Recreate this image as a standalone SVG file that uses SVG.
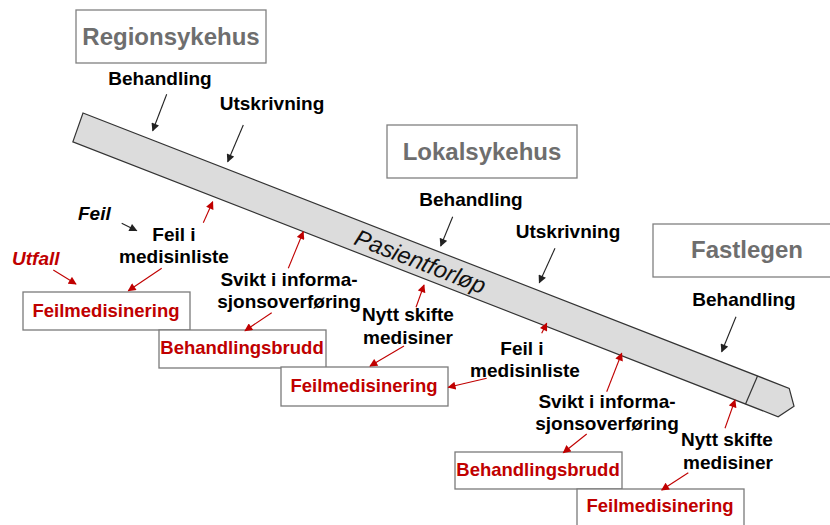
<svg xmlns="http://www.w3.org/2000/svg" width="830" height="525" viewBox="0 0 830 525">
<style>
.hbox{fill:#fff;stroke:#808080;stroke-width:1.3}
.htxt{font-family:"Liberation Sans",Arial,sans-serif;font-weight:bold;font-size:24px;fill:#6e6e6e;text-anchor:middle}
.rbox{fill:#fff;stroke:#7a7a7a;stroke-width:1.3}
.rtxt{font-family:"Liberation Sans",Arial,sans-serif;font-weight:bold;font-size:18.5px;fill:#c00000;text-anchor:middle}
.lbl{font-family:"Liberation Sans",Arial,sans-serif;font-weight:bold;font-size:19px;fill:#000;text-anchor:middle}
.ita{font-family:"Liberation Sans",Arial,sans-serif;font-weight:bold;font-style:italic;font-size:19px}
.ba{stroke:#222;stroke-width:1.1;fill:none;marker-end:url(#ah-b)}
.ra{stroke:#c00000;stroke-width:1.1;fill:none;marker-end:url(#ah-r)}
</style>
<defs>
<marker id="ah-b" viewBox="0 0 10 10" refX="9" refY="5" markerWidth="9" markerHeight="8" markerUnits="userSpaceOnUse" orient="auto"><path d="M0,0 L10,5 L0,10 z" fill="#222"/></marker>
<marker id="ah-r" viewBox="0 0 10 10" refX="9" refY="5" markerWidth="9" markerHeight="8" markerUnits="userSpaceOnUse" orient="auto"><path d="M0,0 L10,5 L0,10 z" fill="#c00000"/></marker>
</defs>
<rect width="830" height="525" fill="#fff"/>

<g id="pasientforlop" transform="translate(83,113) rotate(21.3)">
<path d="M0,0 L758,0 L769,15 L758,30.5 L1,30.5 Z" fill="#dcdcdc" stroke="#333" stroke-width="1.2"/>
<line x1="724" y1="0" x2="723" y2="30.5" stroke="#333" stroke-width="1.2"/>
<text x="299" y="24" font-family="'Liberation Sans',Arial,sans-serif" font-style="italic" font-size="23.5" fill="#111">Pasientforløp</text>
</g>

<g id="regionsykehus"><rect class="hbox" x="76" y="10" width="190" height="53"/><text class="htxt" x="171" y="45">Regionsykehus</text></g>
<g id="lokalsykehus"><rect class="hbox" x="387" y="125" width="190" height="53"/><text class="htxt" x="482" y="160">Lokalsykehus</text></g>
<g id="fastlegen"><rect class="hbox" x="653" y="224" width="190" height="53"/><text class="htxt" x="747" y="258">Fastlegen</text></g>

<g id="feilmed1"><rect class="rbox" x="23" y="292" width="167" height="38"/><text class="rtxt" x="106" y="317">Feilmedisinering</text></g>
<g id="behbrudd1"><rect class="rbox" x="159" y="330" width="167" height="38"/><text class="rtxt" x="242" y="354">Behandlingsbrudd</text></g>
<g id="feilmed2"><rect class="rbox" x="281" y="367" width="167" height="39"/><text class="rtxt" x="364" y="392">Feilmedisinering</text></g>
<g id="behbrudd2"><rect class="rbox" x="455" y="452" width="167" height="37"/><text class="rtxt" x="538" y="476">Behandlingsbrudd</text></g>
<g id="feilmed3"><rect class="rbox" x="577" y="489" width="167" height="40"/><text class="rtxt" x="660" y="512">Feilmedisinering</text></g>

<g id="labels">
<text class="lbl" x="160" y="85">Behandling</text>
<text class="lbl" x="272" y="110">Utskrivning</text>
<text class="ita" x="78" y="220" fill="#000">Feil</text>
<text class="ita" x="12" y="265" fill="#c00000">Utfall</text>
<text class="lbl" x="174" y="241">Feil i</text>
<text class="lbl" x="174" y="263">medisinliste</text>
<text class="lbl" x="289" y="286">Svikt i informa-</text>
<text class="lbl" x="289" y="308">sjonsoverføring</text>
<text class="lbl" x="471" y="206">Behandling</text>
<text class="lbl" x="568" y="238">Utskrivning</text>
<text class="lbl" x="408" y="321">Nytt skifte</text>
<text class="lbl" x="408" y="344">medisiner</text>
<text class="lbl" x="522" y="355">Feil i</text>
<text class="lbl" x="525" y="377">medisinliste</text>
<text class="lbl" x="607" y="408">Svikt i informa-</text>
<text class="lbl" x="607" y="430">sjonsoverføring</text>
<text class="lbl" x="727" y="446">Nytt skifte</text>
<text class="lbl" x="728" y="469">medisiner</text>
<text class="lbl" x="744" y="306">Behandling</text>
</g>

<g id="connectors">
<line class="ba" x1="166.7" y1="94.3" x2="152.7" y2="130.7"/>
<line class="ba" x1="243.3" y1="125" x2="227.7" y2="161.7"/>
<line class="ba" x1="121.7" y1="223.3" x2="136.7" y2="230.7"/>
<line class="ba" x1="452.7" y1="216.7" x2="440.7" y2="246"/>
<line class="ba" x1="555" y1="248.3" x2="539.3" y2="282.7"/>
<line class="ba" x1="736" y1="316.7" x2="721.7" y2="351.7"/>
<line class="ra" x1="53.3" y1="270" x2="76" y2="284"/>
<line class="ra" x1="203.3" y1="222.7" x2="212.7" y2="201.7"/>
<line class="ra" x1="161.7" y1="268.3" x2="128.3" y2="290.7"/>
<line class="ra" x1="288.3" y1="268.3" x2="303.3" y2="231.7"/>
<line class="ra" x1="271.7" y1="312.7" x2="245" y2="330.7"/>
<line class="ra" x1="416" y1="307.3" x2="424" y2="285"/>
<line class="ra" x1="404" y1="346" x2="370" y2="366"/>
<line class="ra" x1="541.7" y1="333.3" x2="546.7" y2="323.3"/>
<line class="ra" x1="486.7" y1="378.3" x2="448.3" y2="387.3"/>
<line class="ra" x1="606.7" y1="391.7" x2="621.7" y2="353.3"/>
<line class="ra" x1="586.7" y1="434" x2="563.3" y2="452.7"/>
<line class="ra" x1="725" y1="428.3" x2="735" y2="400"/>
<line class="ra" x1="688.3" y1="472.7" x2="661.7" y2="490"/>
</g>
</svg>
